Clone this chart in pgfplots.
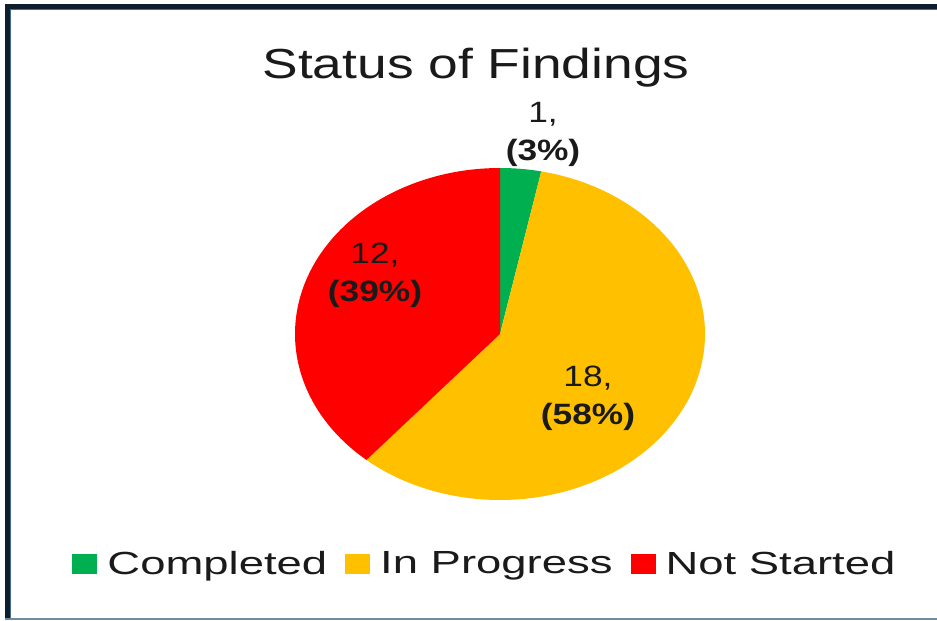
\documentclass[border=0pt]{standalone}
\usepackage{pgfplots}
\pgfplotsset{compat=1.18}
\usepackage{pgfplotstable}
\usepackage{fontspec}
\setmainfont{Liberation Sans}
\newfontfamily\titlefont[FakeStretch=1.27]{Liberation Sans}
\newfontfamily\legfont[FakeStretch=1.42]{Liberation Sans}
\newfontfamily\labfont[FakeStretch=1.2]{Liberation Sans}
\definecolor{cGreen}{HTML}{00B050}
\definecolor{cYellow}{HTML}{FFC000}
\definecolor{cRed}{HTML}{FF0000}
\definecolor{txt}{HTML}{1A1A1A}
\definecolor{frameDark}{HTML}{0E1E2C}
\definecolor{frameBlue}{HTML}{3F6E8E}
\definecolor{frameLight}{HTML}{6F8C9E}

\pgfplotstableread{
status value
Completed 1
InProgress 18
NotStarted 12
}\statustable

\begin{document}
\begin{tikzpicture}
\pgfplotstablegetelem{0}{value}\of\statustable \let\vA\pgfplotsretval
\pgfplotstablegetelem{1}{value}\of\statustable \let\vB\pgfplotsretval
\pgfplotstablegetelem{2}{value}\of\statustable \let\vC\pgfplotsretval
\pgfmathsetmacro\tot{\vA+\vB+\vC}
\pgfmathsetmacro\aA{90-360*\vA/\tot}
\pgfmathsetmacro\aB{\aA-360*\vB/\tot}
\pgfmathsetmacro\aC{\aB-360*\vC/\tot}
\begin{axis}[
  scale only axis,
  width=468.5pt, height=310.5pt,
  xmin=0, xmax=937, ymin=0, ymax=621,
  hide axis, clip=false,
  legend image code/.code={\path[#1] (0pt,-5pt) rectangle (12.5pt,5pt);},
  legend style={at={(axis description cs:0.5165,0.0918)}, anchor=center,
    draw=none, fill=none, legend columns=3,
    font=\legfont\fontsize{16pt}{19pt}\selectfont,
    text=txt,
    nodes={inner sep=0pt},
    /tikz/every odd column/.append style={column sep=5pt},
    /tikz/every even column/.append style={column sep=9pt}},
]
\addplot[fill=cGreen, draw=none, domain=\aA:90, samples=12]
  ({500+205*cos(x)},{287+166*sin(x)}) -- (axis cs:500,287) -- cycle;
\addlegendentry{Completed}
\addplot[fill=cYellow, draw=none, domain=\aB:\aA, samples=150]
  ({500+205*cos(x)},{287+166*sin(x)}) -- (axis cs:500,287) -- cycle;
\addlegendentry{In Progress}
\addplot[fill=cRed, draw=none, domain=\aC:\aB, samples=110]
  ({500+205*cos(x)},{287+166*sin(x)}) -- (axis cs:500,287) -- cycle;
\addlegendentry{Not Started}

\node[anchor=base, text=txt, inner sep=0pt] at (axis cs:476,542)
  {\titlefont\fontsize{21pt}{25pt}\selectfont Status of Findings};

\node[align=center, text=txt, inner sep=0pt, font=\labfont\fontsize{14.7pt}{19pt}\selectfont]
  at (axis cs:543,487) {1,\\\bfseries(3\%)};
\node[align=center, text=txt, inner sep=0pt, font=\labfont\fontsize{14.7pt}{19pt}\selectfont]
  at (axis cs:375,346) {12,\\\bfseries(39\%)};
\node[align=center, text=txt, inner sep=0pt, font=\labfont\fontsize{14.7pt}{19pt}\selectfont]
  at (axis cs:588,223) {18,\\\bfseries(58\%)};

% frame
\fill[frameDark] (axis cs:5,617) rectangle (axis cs:937,611.5);
\fill[frameBlue] (axis cs:10,611.5) rectangle (axis cs:937,610.5);
\fill[frameDark] (axis cs:5,617) rectangle (axis cs:9.5,1);
\fill[frameBlue] (axis cs:9.5,611.5) rectangle (axis cs:10.5,1);
\fill[frameLight] (axis cs:5,3) rectangle (axis cs:937,1);
\end{axis}
\pgfresetboundingbox
\path (0,0) rectangle (468.5pt,310.5pt);
\end{tikzpicture}
\end{document}
